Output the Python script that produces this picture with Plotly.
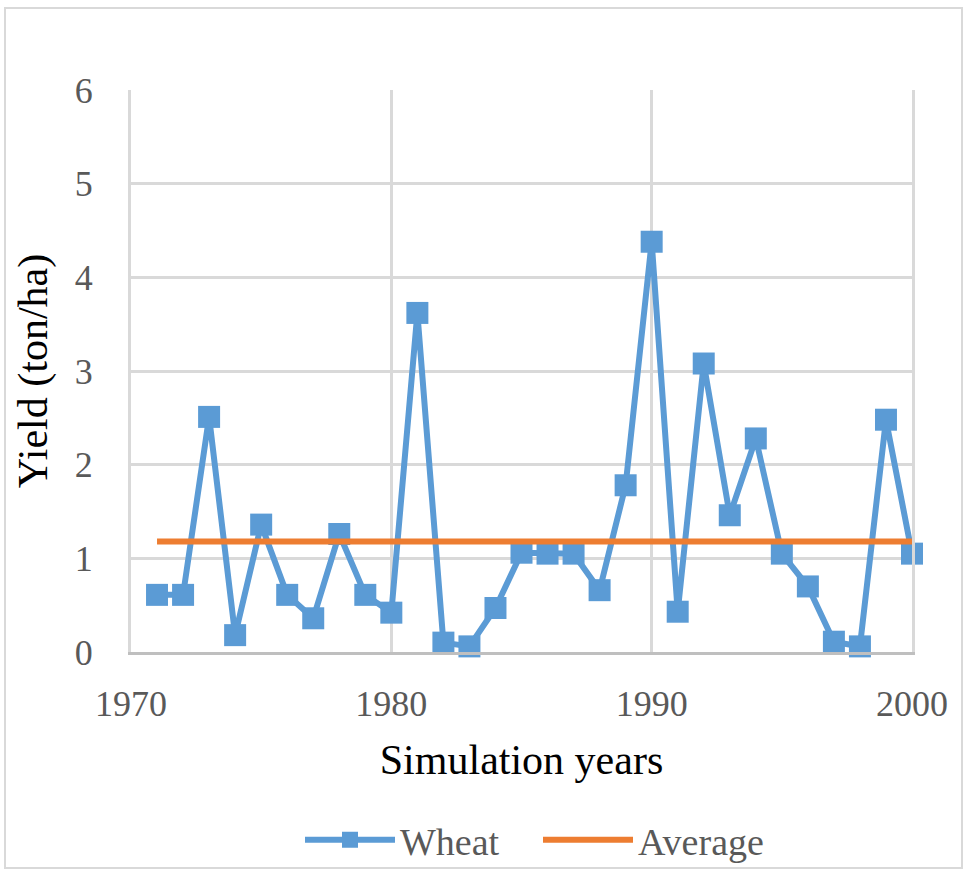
import plotly.graph_objects as go

years = list(range(1971, 2001))
wheat = [0.61, 0.61, 2.51, 0.18, 1.36, 0.61, 0.36, 1.26, 0.61, 0.42,
         3.62, 0.10, 0.06, 0.47, 1.06, 1.05, 1.05, 0.66, 1.78, 4.38,
         0.43, 3.08, 1.46, 2.28, 1.05, 0.70, 0.11, 0.06, 2.48, 1.05]
average_value = 1.18
average = [average_value] * len(years)
x_ticks = [1970, 1980, 1990, 2000]
y_ticks = [0, 1, 2, 3, 4, 5, 6]

W, H = 967, 873
L, R, T, B = 131, 55, 90, 221
pw, ph = W - L - R, H - T - B

fig = go.Figure()
fig.add_trace(go.Scatter(
    x=years, y=wheat, name="Wheat", mode="lines+markers",
    line=dict(color="#5b9bd5", width=6),
    marker=dict(symbol="square", size=22, color="#5b9bd5"),
    cliponaxis=False,
))
fig.add_trace(go.Scatter(
    x=years, y=average, name="Average", mode="lines",
    line=dict(color="#ed7d31", width=6),
    cliponaxis=False,
))

font_fam = "Liberation Serif, Times New Roman, serif"

def px2paper_x(p):
    return (p - L) / pw

def px2paper_y(p):
    return (H - B - p) / ph

fig.add_shape(type="rect", xref="paper", yref="paper",
              x0=px2paper_x(5), x1=px2paper_x(962),
              y0=px2paper_y(868), y1=px2paper_y(8),
              line=dict(color="#d9d9d9", width=2), layer="below")

fig.update_layout(
    width=W, height=H,
    margin=dict(l=L, r=R, t=T, b=B, pad=0, autoexpand=False),
    paper_bgcolor="white", plot_bgcolor="white",
    font=dict(family=font_fam, color="#595959", size=36),
    showlegend=True,
    legend=dict(orientation="h", x=px2paper_x(300), xanchor="left",
                y=px2paper_y(840), yanchor="middle",
                bgcolor="rgba(0,0,0,0)",
                font=dict(size=38, color="#595959"),
                itemwidth=90, entrywidth=133),
    xaxis=dict(range=[1970, 2000], tickvals=x_ticks, showgrid=True,
               gridcolor="#d9d9d9", gridwidth=3, zeroline=False,
               showline=True, linecolor="#bfbfbf", linewidth=3,
               ticks="", ticklen=0, ticklabelstandoff=18, automargin=False,
               tickfont=dict(size=36, color="#595959"),
               title=dict(text="Simulation years", font=dict(size=42, color="black"),
                          standoff=22)),
    yaxis=dict(range=[0, 6], tickvals=y_ticks, showgrid=True,
               gridcolor="#d9d9d9", gridwidth=3, zeroline=False,
               showline=True, linecolor="#d9d9d9", linewidth=3, mirror=True,
               ticks="", ticklabelstandoff=28, automargin=False,
               tickfont=dict(size=36, color="#595959"),
               title=dict(text="Yield (ton/ha)", font=dict(size=42, color="black"),
                          standoff=15)),
)

fig.write_html("out.html")
